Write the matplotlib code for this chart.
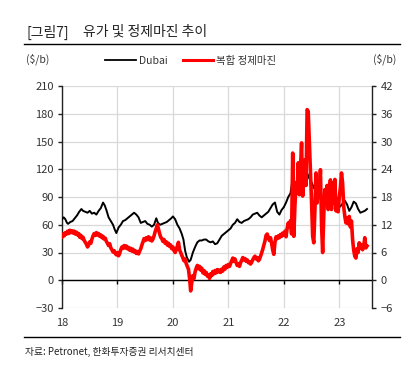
import matplotlib
matplotlib.use("Agg")
import matplotlib.pyplot as plt
from matplotlib.lines import Line2D

plt.rcParams['font.family'] = ['Noto Sans CJK KR', 'DejaVu Sans']

# ---------------- data ----------------
dubai_t = [18.00, 18.03, 18.06, 18.09, 18.11, 18.15, 18.19, 18.23, 18.27, 18.31, 18.35, 18.38,
           18.42, 18.46, 18.50, 18.54, 18.58, 18.62, 18.66, 18.70, 18.74, 18.77, 18.80, 18.84,
           18.88, 18.92, 18.95, 18.98, 19.02, 19.06, 19.10, 19.14, 19.18, 19.22, 19.26, 19.30,
           19.34, 19.38, 19.42, 19.46, 19.50, 19.54, 19.58, 19.62, 19.66, 19.70, 19.73, 19.77,
           19.81, 19.85, 19.89, 19.93, 19.97, 20.00, 20.04, 20.08, 20.12, 20.16, 20.19, 20.22,
           20.25, 20.29, 20.32, 20.36, 20.40, 20.44, 20.48, 20.52, 20.56, 20.60, 20.64, 20.68,
           20.72, 20.76, 20.80, 20.84, 20.88, 20.92, 20.96, 21.00, 21.04, 21.08, 21.12, 21.16,
           21.20, 21.24, 21.28, 21.32, 21.36, 21.40, 21.44, 21.48, 21.52, 21.56, 21.60, 21.64,
           21.68, 21.72, 21.76, 21.80, 21.84, 21.88, 21.92, 21.96, 22.00, 22.04, 22.08, 22.12,
           22.16, 22.19, 22.22, 22.26, 22.30, 22.34, 22.38, 22.42, 22.46, 22.50, 22.54, 22.58,
           22.62, 22.66, 22.70, 22.74, 22.78, 22.82, 22.86, 22.90, 22.94, 22.98, 23.02, 23.06,
           23.10, 23.14, 23.18, 23.22, 23.26, 23.30, 23.34, 23.38, 23.42, 23.46, 23.50]
dubai_v = [66, 68, 66, 62, 61, 63, 64, 67, 70, 74, 77, 75,
           74, 73, 75, 72, 73, 71, 75, 78, 84, 81, 76, 68,
           64, 60, 55, 51, 57, 60, 64, 65, 67, 69, 71, 73,
           71, 68, 62, 63, 64, 61, 60, 58, 60, 67, 62, 60,
           61, 62, 63, 65, 67, 69, 66, 60, 56, 50, 44, 32,
           25, 20, 22, 30, 36, 41, 43, 43, 44, 44, 42, 41,
           42, 39, 40, 44, 48, 50, 52, 54, 56, 60, 62, 66,
           63, 62, 64, 65, 66, 68, 71, 72, 73, 70, 68, 70,
           72, 74, 78, 82, 84, 74, 71, 76, 79, 84, 90, 94,
           110, 100, 106, 110, 114, 112, 115, 116, 110, 106, 100, 97,
           94, 92, 90, 91, 94, 96, 90, 86, 80, 78, 80, 83,
           86, 82, 75, 79, 85, 83, 77, 73, 74, 75, 77]

margin_t = [18.00, 18.02, 18.04, 18.06, 18.08, 18.10, 18.12, 18.14, 18.16, 18.18, 18.20, 18.22,
            18.24, 18.26, 18.28, 18.30, 18.32, 18.34, 18.36, 18.38, 18.40, 18.42, 18.44, 18.46,
            18.48, 18.50, 18.52, 18.54, 18.56, 18.58, 18.60, 18.62, 18.64, 18.66, 18.68, 18.70,
            18.72, 18.74, 18.76, 18.78, 18.80, 18.82, 18.84, 18.86, 18.88, 18.90, 18.92, 18.94,
            18.96, 18.98, 19.00, 19.02, 19.04, 19.06, 19.08, 19.10, 19.12, 19.14, 19.16, 19.18,
            19.20, 19.22, 19.24, 19.26, 19.28, 19.30, 19.32, 19.34, 19.36, 19.38, 19.40, 19.42,
            19.44, 19.46, 19.48, 19.50, 19.52, 19.54, 19.56, 19.58, 19.60, 19.62, 19.64, 19.66,
            19.68, 19.70, 19.72, 19.74, 19.76, 19.78, 19.80, 19.82, 19.84, 19.86, 19.88, 19.90,
            19.92, 19.94, 19.96, 19.98, 20.00, 20.02, 20.04, 20.06, 20.08, 20.10, 20.12, 20.14,
            20.16, 20.18, 20.20, 20.22, 20.24, 20.26, 20.28, 20.30, 20.32, 20.34, 20.36, 20.38,
            20.40, 20.42, 20.44, 20.46, 20.48, 20.50, 20.52, 20.54, 20.56, 20.58, 20.60, 20.62,
            20.64, 20.66, 20.68, 20.70, 20.72, 20.74, 20.76, 20.78, 20.80, 20.82, 20.84, 20.86,
            20.88, 20.90, 20.92, 20.94, 20.96, 20.98, 21.00, 21.02, 21.04, 21.06, 21.08, 21.10,
            21.12, 21.14, 21.16, 21.18, 21.20, 21.22, 21.24, 21.26, 21.28, 21.30, 21.32, 21.34,
            21.36, 21.38, 21.40, 21.42, 21.44, 21.46, 21.48, 21.50, 21.52, 21.54, 21.56, 21.58,
            21.60, 21.62, 21.64, 21.66, 21.68, 21.70, 21.72, 21.74, 21.76, 21.78, 21.80, 21.82,
            21.84, 21.86, 21.88, 21.90, 21.92, 21.94, 21.96, 21.98, 22.00, 22.02, 22.04, 22.06,
            22.08, 22.10, 22.12, 22.14, 22.16, 22.18, 22.20, 22.22, 22.24, 22.26, 22.28, 22.30,
            22.32, 22.34, 22.36, 22.38, 22.40, 22.42, 22.44, 22.46, 22.48, 22.50, 22.52, 22.54,
            22.56, 22.58, 22.60, 22.62, 22.64, 22.66, 22.68, 22.70, 22.72, 22.74, 22.76, 22.78,
            22.80, 22.82, 22.84, 22.86, 22.88, 22.90, 22.92, 22.94, 22.96, 22.98, 23.00, 23.02,
            23.04, 23.06, 23.08, 23.10, 23.12, 23.14, 23.16, 23.18, 23.20, 23.22, 23.24, 23.26,
            23.28, 23.30, 23.32, 23.34, 23.36, 23.38, 23.40, 23.42, 23.44, 23.46, 23.48, 23.50]
margin_v = [9.4, 10.0, 9.6, 10.3, 10.0, 10.6, 10.1, 10.8, 10.3, 10.7, 10.2, 10.6,
            10.0, 10.4, 9.8, 10.1, 9.3, 9.7, 9.0, 9.3, 8.6, 8.2, 7.8, 7.2,
            7.6, 8.3, 8.0, 8.9, 9.6, 10.1, 9.7, 10.3, 9.8, 10.1, 9.5, 9.8,
            9.2, 9.5, 8.9, 9.1, 8.4, 8.0, 7.5, 7.9, 7.0, 6.6, 6.1, 6.4,
            5.8, 5.5, 6.0, 5.3, 5.8, 6.6, 7.2, 6.9, 7.5, 7.0, 7.4, 6.8,
            7.1, 6.5, 6.9, 6.3, 6.7, 6.1, 6.4, 5.8, 6.2, 5.7, 6.3, 6.8,
            7.6, 8.3, 9.0, 8.6, 9.2, 8.8, 9.4, 8.7, 9.1, 8.5, 8.9, 9.6,
            10.5, 11.2, 12.0, 11.0, 10.1, 9.3, 9.0, 8.4, 8.8, 8.0, 8.3, 7.6,
            8.0, 7.3, 7.6, 6.8, 7.2, 6.4, 6.0, 6.6, 7.4, 8.2, 6.6, 6.0,
            5.4, 4.8, 4.2, 4.6, 3.6, 3.0, 2.4, 0.5, -2.3, -0.5, 1.0, 0.4,
            1.8, 2.6, 3.2, 2.5, 3.0, 2.2, 2.6, 1.6, 2.1, 1.3, 1.7, 0.9,
            1.2, 0.4, 1.4, 1.0, 1.9, 1.4, 2.1, 1.6, 2.3, 1.8, 2.2, 1.7,
            2.4, 2.0, 2.9, 2.4, 3.2, 2.8, 3.4, 3.0, 3.6, 4.2, 4.8, 4.1,
            4.6, 3.8, 3.2, 3.6, 3.0, 3.8, 4.3, 4.9, 4.4, 4.7, 4.1, 4.4,
            3.8, 4.0, 3.5, 3.9, 4.4, 4.9, 5.2, 4.6, 4.9, 4.2, 4.5, 5.2,
            5.9, 6.7, 7.6, 8.5, 9.7, 10.0, 9.3, 8.6, 9.2, 8.0, 6.5, 5.6,
            8.2, 9.4, 9.0, 9.6, 9.2, 9.9, 9.5, 10.2, 9.8, 10.6, 9.4, 11.2,
            12.4, 11.6, 12.9, 10.0, 27.5, 9.5, 16.0, 21.0, 19.0, 25.4, 18.5, 24.0,
            29.7, 18.2, 22.0, 26.0, 20.5, 36.9, 36.5, 30.0, 24.0, 17.0, 9.5, 8.1,
            15.0, 23.2, 16.7, 20.5, 18.2, 23.9, 12.0, 6.0, 14.0, 19.6, 16.7, 20.5,
            15.3, 19.0, 21.7, 15.3, 21.0, 16.7, 21.8, 15.0, 17.5, 14.8, 18.0, 20.0,
            23.2, 21.0, 15.9, 13.8, 12.4, 13.5, 12.2, 13.8, 11.5, 12.8, 8.8, 6.5,
            5.2, 4.8, 6.8, 6.0, 8.1, 7.0, 7.7, 6.6, 7.3, 9.2, 7.0, 7.4]

year_ticks = [18, 19, 20, 21, 22, 23]
year_labels = ['18', '19', '20', '21', '22', '23']
left_ticks = [-30, 0, 30, 60, 90, 120, 150, 180, 210]
right_ticks = [-6, 0, 6, 12, 18, 24, 30, 36, 42]
series_names = ['Dubai', '복합 정제마진']

# ---------------- figure ----------------
W, H = 417, 372
fig = plt.figure(figsize=(W / 100, H / 100), dpi=100)
ax = fig.add_axes([62 / W, 1 - 308 / H, (372 - 62) / W, (308 - 86) / H])
ax2 = ax.twinx()

ax.plot(dubai_t, dubai_v, color='black', lw=1.4, zorder=3)
ax2.plot(margin_t, margin_v, color='#ff0000', lw=2.6, zorder=3)

ax.set_xlim(18, 23.59)
ax.set_ylim(-30, 210)
ax2.set_ylim(-6, 42)

ax.set_yticks(left_ticks)
ax2.set_yticks(right_ticks)
ax.set_xticks(year_ticks)
ax.set_xticklabels(year_labels)

ax.grid(True, color='#d9d9d9', lw=0.9)
ax.set_axisbelow(True)

for a in (ax, ax2):
    a.spines['top'].set_visible(False)
    for s in ('left', 'right'):
        a.spines[s].set_linewidth(1.0)
        a.spines[s].set_color('#222222')
ax.spines['right'].set_visible(False)
ax2.spines['left'].set_visible(False)
ax2.spines['bottom'].set_visible(False)
ax.spines['bottom'].set_position(('data', 0))
ax.spines['bottom'].set_color('black')
ax.spines['bottom'].set_linewidth(1.0)

ax.tick_params(axis='y', direction='out', length=3, width=1, labelsize=8,
               colors='#222222', labelcolor='#333333', pad=3)
ax2.tick_params(axis='y', direction='out', length=3, width=1, labelsize=8,
                colors='#222222', labelcolor='#333333', pad=3)
ax.tick_params(axis='x', direction='out', length=3, width=1, labelsize=8,
               labelcolor='#333333', pad=24)

# title and rules
fig.text(26 / W, 1 - 32 / H, '[그림7]', fontsize=10, va='center', ha='left', color='#222222')
fig.text(83 / W, 1 - 32 / H, '유가 및 정제마진 추이', fontsize=10, va='center', ha='left', color='#222222')
fig.add_artist(Line2D([24 / W, 400 / W], [1 - 44 / H, 1 - 44 / H], color='black', lw=1.0))
fig.add_artist(Line2D([24 / W, 400 / W], [1 - 337 / H, 1 - 337 / H], color='black', lw=1.0))

fig.text(26 / W, 1 - 59 / H, '($/b)', fontsize=7.5, va='center', ha='left', color='#333333')
fig.text(396 / W, 1 - 59 / H, '($/b)', fontsize=7.5, va='center', ha='right', color='#333333')

handles = [Line2D([], [], color='black', lw=1.3), Line2D([], [], color='#ff0000', lw=2.2)]
fig.legend(handles, series_names, loc='center', bbox_to_anchor=(191 / W, 1 - 61 / H), ncol=2,
           frameon=False, fontsize=7.5, handlelength=2.9, handletextpad=0.35,
           columnspacing=1.4, borderpad=0, labelcolor='#333333')

fig.text(25 / W, 1 - 352 / H, '자료: Petronet, 한화투자증권 리서치센터', fontsize=7,
         va='center', ha='left', color='#222222')

fig.savefig('out.png', dpi=100)
